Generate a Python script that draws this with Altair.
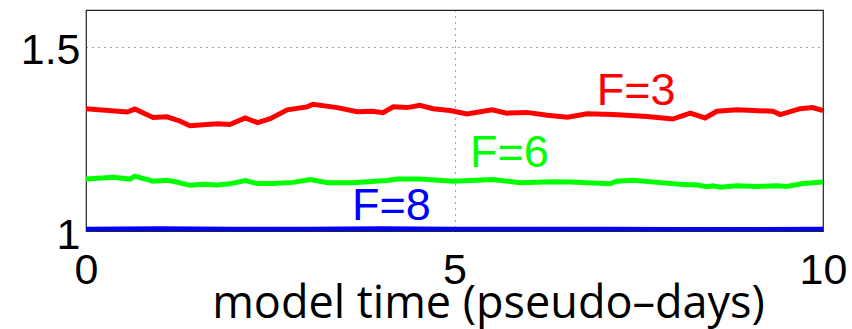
import altair as alt
import pandas as pd

# F=3 (red)
red_t = [0.0, 0.56, 0.66, 0.91, 1.10, 1.28, 1.41, 1.78, 1.95, 2.16, 2.33, 2.50, 2.73, 3.00, 3.08,
         3.41, 3.68, 3.89, 4.03, 4.17, 4.36, 4.53, 4.71, 4.94, 5.17, 5.39, 5.51, 5.71, 5.98, 6.26,
         6.53, 6.80, 7.15, 7.61, 7.96, 8.20, 8.40, 8.56, 8.83, 9.32, 9.42, 9.69, 9.86, 10.0]
red_v = [1.332, 1.323, 1.331, 1.308, 1.310, 1.298, 1.286, 1.291, 1.289, 1.307, 1.294, 1.305, 1.329,
         1.337, 1.344, 1.335, 1.324, 1.325, 1.321, 1.337, 1.335, 1.341, 1.332, 1.327, 1.318, 1.325,
         1.329, 1.320, 1.322, 1.314, 1.309, 1.318, 1.316, 1.311, 1.304, 1.320, 1.307, 1.325, 1.329,
         1.325, 1.316, 1.332, 1.335, 1.327]

# F=6 (green)
green_t = [0.0, 0.37, 0.60, 0.66, 0.91, 1.10, 1.23, 1.41, 1.59, 1.78, 1.95, 2.16, 2.32, 2.54, 2.81,
           3.04, 3.28, 3.62, 4.08, 4.22, 4.53, 4.98, 5.52, 5.89, 6.34, 6.57, 7.11, 7.20, 7.42, 7.75,
           8.06, 8.29, 8.43, 8.51, 8.60, 8.83, 9.10, 9.38, 9.51, 9.73, 10.0]
green_v = [1.141, 1.146, 1.141, 1.149, 1.135, 1.138, 1.133, 1.124, 1.127, 1.125, 1.128, 1.137, 1.129,
           1.129, 1.132, 1.140, 1.131, 1.131, 1.137, 1.141, 1.141, 1.135, 1.140, 1.131, 1.134, 1.133,
           1.128, 1.135, 1.138, 1.132, 1.127, 1.125, 1.120, 1.123, 1.119, 1.123, 1.121, 1.123, 1.121,
           1.129, 1.133]

# F=8 (blue)
blue_t = [0.0, 1.0, 2.0, 3.0, 4.0, 5.0, 6.0, 7.0, 8.0, 9.0, 10.0]
blue_v = [1.005, 1.006, 1.005, 1.005, 1.006, 1.005, 1.005, 1.005, 1.004, 1.004, 1.005]

label_text = ["F=3", "F=6", "F=8"]
label_t = [6.93, 5.21, 3.61]
label_v = [1.343, 1.175, 1.031]
series_names = ["F=3", "F=6", "F=8"]
series_colors = ["#ff0000", "#00ff00", "#0000ff"]

x_ticks = [0, 5, 10]
y_ticks = [1, 1.5]

rows = []
for name, ts, vs in zip(series_names, [red_t, green_t, blue_t], [red_v, green_v, blue_v]):
    for i, (t, v) in enumerate(zip(ts, vs)):
        rows.append({"series": name, "t": t, "v": v, "order": i})
df = pd.DataFrame(rows)
labels = pd.DataFrame({"series": series_names, "text": label_text, "t": label_t, "v": label_v})

color = alt.Color("series:N", scale=alt.Scale(domain=series_names, range=series_colors), legend=None)

x_enc = alt.X("t:Q", scale=alt.Scale(domain=[0, 10], nice=False),
              axis=alt.Axis(values=x_ticks, title="model time (pseudo\u2013days)", grid=True,
                            gridDash=[1, 5], gridColor="#333", gridOpacity=0.9, format="~g",
                            labelFont="Liberation Sans", labelFontSize=43, labelColor="black",
                            labelPadding=18, ticks=False, domain=False, labelFlush=False,
                            titleFont="Open Sans", titleFontSize=45, titleFontWeight="normal",
                            titleColor="black", titleX=402, titleY=86, titleBaseline="alphabetic",
                            titleAlign="center"))
y_enc = alt.Y("v:Q", scale=alt.Scale(domain=[1, 1.6], nice=False, zero=False),
              axis=alt.Axis(values=y_ticks, title=None, grid=True, gridDash=[1, 5],
                            gridColor="#333", gridOpacity=0.9, format="~g",
                            labelFont="Liberation Sans", labelFontSize=43, labelColor="black",
                            labelPadding=6, ticks=False, domain=False, labelFlush=False,
                            labelOffset=4))

lines = alt.Chart(df).mark_line(strokeWidth=5, clip=True).encode(
    x=x_enc, y=y_enc, color=color, detail="series:N", order="order:Q")

texts = alt.Chart(labels).mark_text(align="left", baseline="alphabetic", font="Liberation Sans",
                                    fontSize=45).encode(
    x="t:Q", y="v:Q", text="text:N", color=color)

chart = alt.layer(lines, texts).properties(
    width=737, height=221,
    autosize=alt.AutoSizeParams(type="none"),
    padding={"left": 86, "top": 10, "right": 29, "bottom": 98},
    background="white",
).configure_view(stroke="#222", strokeWidth=1.2)

chart.save("out.html", embed_options={"renderer": "svg", "actions": False})
